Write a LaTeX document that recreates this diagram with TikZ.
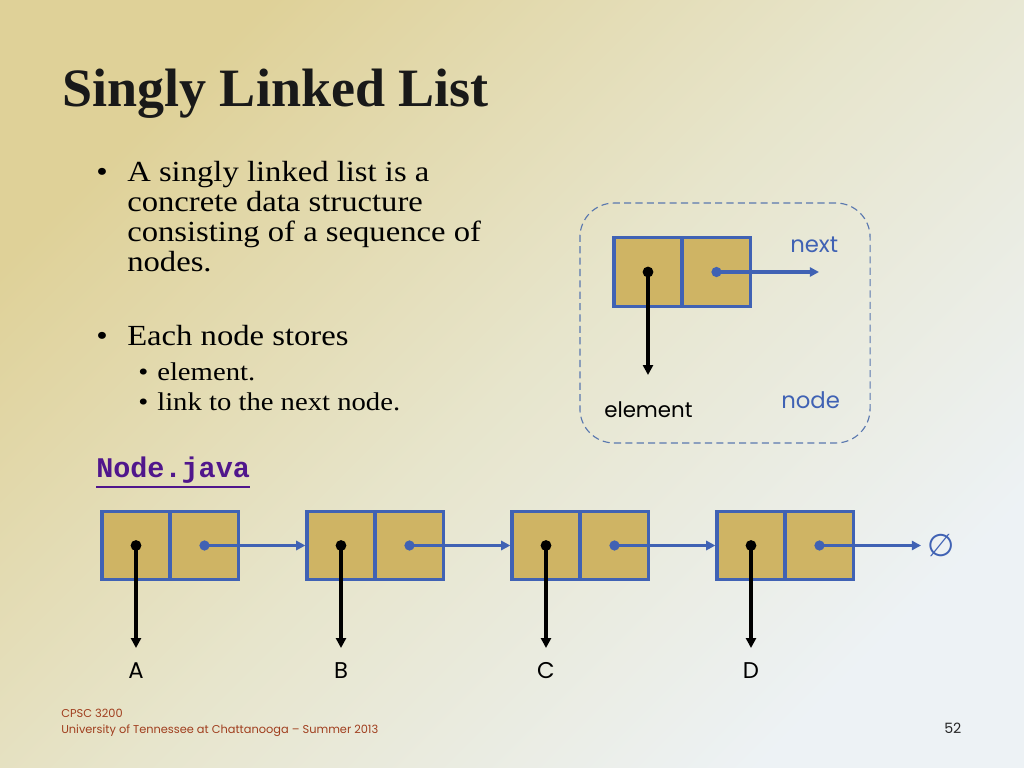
\documentclass[tikz,border=0pt]{standalone}
\usepackage{fontspec}
\setmainfont{Liberation Serif}
\newfontfamily\bodyserif[FakeStretch=1.12]{Liberation Serif}
\newfontfamily\gothic{Poppins}
\newfontfamily\dejavu{DejaVu Sans}
\newfontfamily\monob{Liberation Mono}
\usetikzlibrary{arrows.meta,calc}
\definecolor{bgtan}{RGB}{223,209,152}
\definecolor{bgmid}{RGB}{231,229,204}
\definecolor{bgblue}{RGB}{237,242,245}
\definecolor{gold}{RGB}{207,180,100}
\definecolor{nodeblue}{RGB}{64,98,180}
\definecolor{dashblue}{RGB}{90,120,175}
\definecolor{javapurple}{RGB}{80,22,140}
\definecolor{footred}{RGB}{160,62,30}
\tikzset{
  cell/.style={draw=nodeblue, fill=gold, line width=2.3pt, minimum width=47.8pt, minimum height=48.2pt, inner sep=0pt},
  elemarrow/.style={black, line width=2.5pt, -{Triangle[length=7pt,width=7pt]}},
  nextarrow/.style={nodeblue, line width=2.3pt, -{Triangle[length=6.5pt,width=6.5pt]}},
  bodytext/.style={anchor=base west, inner sep=0pt, font=\bodyserif\fontsize{20.5}{24}\selectfont},
  subtext/.style={anchor=base west, inner sep=0pt, font=\bodyserif\fontsize{18}{22}\selectfont},
  labeltext/.style={anchor=base west, inner sep=0pt, font=\gothic\fontsize{16}{19}\selectfont},
  letter/.style={inner sep=0pt, font=\gothic\fontsize{16}{19}\selectfont},
  foot/.style={anchor=base west, inner sep=0pt, text=footred, font=\gothic\fontsize{8}{10}\selectfont},
  dashbox/.style={draw=dashblue, line width=0.8pt, dash pattern=on 5pt off 3pt, rounded corners=24pt, minimum width=204pt, minimum height=168.7pt}
}
\begin{document}
\begin{tikzpicture}[x=0.703125pt, y=-0.703125pt]
\useasboundingbox (0,0) rectangle (1024,768);
\shade[top color=bgtan, bottom color=bgblue, middle color=bgmid, shading angle=45] (0,0) rectangle (1024,768);

% title
\node[anchor=base west, inner sep=0pt, text=black!90, font=\bfseries\fontsize{38}{46}\selectfont] (title) at (62,107) {Singly Linked List};

% bullets
\node[bodytext] (b1) at (96,182) {•};
\node[bodytext] (l1) at (127,182) {A singly linked list is a};
\node[bodytext] (l2) at (127,212) {concrete data structure};
\node[bodytext] (l3) at (127,242) {consisting of a sequence of};
\node[bodytext] (l4) at (127,272) {nodes.};
\node[bodytext] (b2) at (96,346) {•};
\node[bodytext] (l5) at (127,346) {Each node stores};
\node[subtext] (b3) at (138,380) {•};
\node[subtext] (l6) at (157,380) {element.};
\node[subtext] (b4) at (138,410) {•};
\node[subtext] (l7) at (157,410) {link to the next node.};

% Node.java
\node[anchor=base west, inner sep=0pt, text=javapurple, font=\monob\bfseries\fontsize{20}{24}\selectfont] (nj) at (96,477) {Node.java};
\draw[javapurple, line width=2pt] ([yshift=-7pt]nj.base west) -- ([yshift=-7pt]nj.base east);

% legend box
\node[dashbox] (legend) at (725,323) {};
\node[cell] (ta) at (648,272) {};
\node[cell] (tb) at (716.5,272) {};
\coordinate (tel) at (648,375);
\coordinate (tnx) at (819,272);
\draw[elemarrow] (ta.center) -- (tel);
\draw[nextarrow] (tb.center) -- (tnx);
\fill[black] (ta.center) circle[radius=3.8pt];
\fill[nodeblue] (tb.center) circle[radius=3.6pt];
\node[labeltext, text=nodeblue] (nextlbl) at (790,253) {next};
\node[labeltext, text=nodeblue] (nodelbl) at (781,408) {node};
\node[labeltext, text=black, font=\gothic\fontsize{15}{18}\selectfont] (elemlbl) at (604,417) {element};

% chain
\foreach \i/\x/\L in {1/136/A,2/341/B,3/546/C,4/751/D}{
  \node[cell] (n\i a) at (\x,545.5) {};
  \node[cell] (n\i b) at (\x+68.5,545.5) {};
  \coordinate (e\i) at (\x,648);
  \draw[elemarrow] (n\i a.center) -- (e\i);
  \node[letter] (lab\i) at (\x,671) {\L};
}
\coordinate (endp) at (921,545.5);
\draw[nextarrow] (n1b.center) -- (n2a.west);
\draw[nextarrow] (n2b.center) -- (n3a.west);
\draw[nextarrow] (n3b.center) -- (n4a.west);
\draw[nextarrow] (n4b.center) -- (endp);
\node[inner sep=0pt, text=nodeblue, font=\dejavu\fontsize{22}{24}\selectfont] (nullsym) at (941,545.5) {∅};
\foreach \i in {1,2,3,4}{
  \fill[black] (n\i a.center) circle[radius=3.8pt];
  \fill[nodeblue] (n\i b.center) circle[radius=3.6pt];
}

% footer
\node[foot] (f1) at (61,717) {CPSC 3200};
\node[foot] (f2) at (61,733) {University of Tennessee at Chattanooga – Summer 2013};
\node[anchor=base west, inner sep=0pt, text=black!85, font=\gothic\fontsize{10}{12}\selectfont] (pg) at (944,733) {52};
\end{tikzpicture}
\end{document}
